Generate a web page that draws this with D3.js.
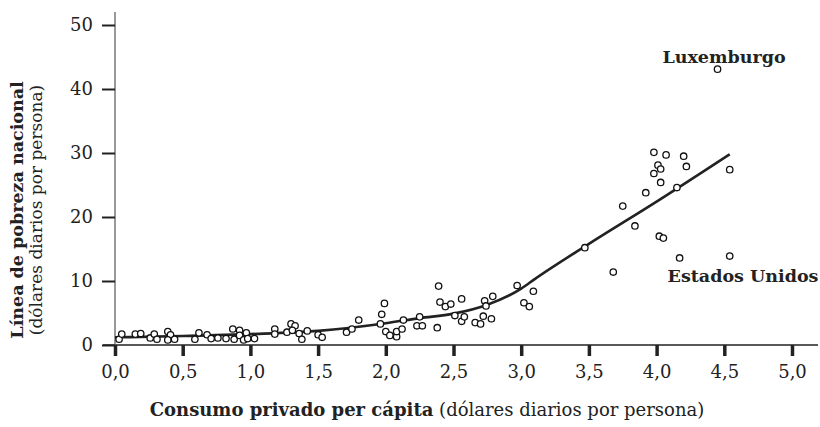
<!DOCTYPE html>
<html>
<head>
<meta charset="utf-8">
<script src="https://cdn.jsdelivr.net/npm/d3@7"></script>
<style>
  body { margin: 0; background: #fff; }
  svg { display: block; font-family: "DejaVu Serif", "Liberation Serif", serif; }
</style>
</head>
<body>
<svg id="chart" width="820" height="427"></svg>
<script>
// consumo privado per capita (x) vs linea de pobreza nacional (y)
const pointX = [0.03, 0.05, 0.15, 0.19, 0.26, 0.29, 0.31, 0.39, 0.41, 0.39, 0.44, 0.59, 0.62, 0.68, 0.71,
  0.76, 0.82, 0.87, 0.88, 0.92, 0.92, 0.95, 0.97, 0.98, 1.03, 1.18, 1.18, 1.27, 1.30, 1.33, 1.31, 1.36,
  1.38, 1.42, 1.50, 1.53, 1.71, 1.75, 1.80, 1.96, 1.97, 1.99, 2.00, 2.03, 2.08, 2.08, 2.12, 2.13, 2.23,
  2.27, 2.25, 2.38, 2.39, 2.40, 2.44, 2.48, 2.51, 2.56, 2.58, 2.56, 2.66, 2.70, 2.72, 2.73, 2.74, 2.78,
  2.79, 2.97, 3.02, 3.06, 3.09, 3.47, 3.68, 3.75, 3.84, 3.92, 3.98, 4.01, 4.03, 3.98, 4.03, 4.07, 4.02,
  4.05, 4.15, 4.17, 4.20, 4.22, 4.54, 4.54, 4.45];
const pointY = [0.9, 1.7, 1.7, 1.8, 1.1, 1.7, 0.9, 2.1, 1.6, 0.8, 0.9, 0.9, 1.9, 1.6, 1.0,
  1.1, 1.0, 2.5, 0.9, 2.3, 1.5, 0.8, 1.9, 1.0, 1.0, 2.5, 1.7, 2.0, 3.3, 3.0, 2.3, 1.8,
  0.9, 2.2, 1.6, 1.2, 2.0, 2.5, 3.9, 3.3, 4.8, 6.5, 2.1, 1.5, 1.3, 2.1, 2.5, 3.9, 3.0,
  3.0, 4.4, 2.7, 9.2, 6.7, 6.0, 6.4, 4.6, 3.7, 4.4, 7.2, 3.5, 3.3, 4.5, 6.9, 6.1, 4.1,
  7.6, 9.3, 6.6, 6.0, 8.4, 15.2, 11.4, 21.7, 18.6, 23.8, 30.1, 28.1, 27.5, 26.8, 25.4, 29.7, 17.0,
  16.7, 24.6, 13.6, 29.5, 27.9, 27.4, 13.9, 43.1];

// curva ajustada
const fitX = [0.0, 0.5, 1.0, 1.5, 2.0, 2.25, 2.5, 2.75, 3.0, 3.1, 3.5, 4.0, 4.54];
const fitY = [1.2, 1.4, 1.7, 2.2, 3.4, 4.2, 4.9, 6.3, 8.8, 10.3, 15.8, 22.4, 29.8];

const xTicks = [0, 0.5, 1, 1.5, 2, 2.5, 3, 3.5, 4, 4.5, 5];
const yTicks = [0, 10, 20, 30, 40, 50];

const notes = ["Luxemburgo", "Estados Unidos"];

const svg = d3.select("#chart");
const x = d3.scaleLinear().domain([0, 5]).range([115, 792]);
const y = d3.scaleLinear().domain([0, 50]).range([345, 25]);
const fmt = v => d3.format(".1f")(v).replace(".", ",");

// axis lines
svg.append("line")
  .attr("x1", 103).attr("x2", 818)
  .attr("y1", y(0)).attr("y2", y(0))
  .attr("stroke", "#222").attr("stroke-width", 1.6);
svg.append("line")
  .attr("x1", x(0)).attr("x2", x(0))
  .attr("y1", 12).attr("y2", y(0))
  .attr("stroke", "#555").attr("stroke-width", 1.2);

const xAxis = svg.append("g")
  .attr("transform", `translate(0,${y(0)})`)
  .call(d3.axisBottom(x).tickValues(xTicks).tickSize(11).tickPadding(9).tickFormat(fmt))
  .attr("font-family", null).attr("font-size", 18);
xAxis.select(".domain").remove();
xAxis.selectAll(".tick line").attr("stroke", "#222").attr("stroke-width", 3.5);
xAxis.selectAll(".tick text").attr("fill", "#222");

const yAxis = svg.append("g")
  .attr("transform", `translate(${x(0)},0)`)
  .call(d3.axisLeft(y).tickValues(yTicks).tickSize(13).tickPadding(9))
  .attr("font-family", null).attr("font-size", 18);
yAxis.select(".domain").remove();
yAxis.selectAll(".tick line").attr("stroke", "#222").attr("stroke-width", 2);
yAxis.selectAll(".tick text").attr("fill", "#222");

// fitted curve
const line = d3.line().x(d => x(d[0])).y(d => y(d[1])).curve(d3.curveMonotoneX);
svg.append("path")
  .datum(d3.zip(fitX, fitY))
  .attr("d", line)
  .attr("fill", "none")
  .attr("stroke", "#222")
  .attr("stroke-width", 2.6);

// points
svg.append("g")
  .selectAll("circle")
  .data(d3.zip(pointX, pointY))
  .join("circle")
  .attr("cx", d => x(d[0]))
  .attr("cy", d => y(d[1]))
  .attr("r", 3.2)
  .attr("fill", "#fff")
  .attr("stroke", "#111")
  .attr("stroke-width", 1.3);

// country labels
svg.append("text")
  .attr("x", 724).attr("y", 63)
  .attr("text-anchor", "middle")
  .attr("font-weight", "bold").attr("font-size", 17.5).attr("fill", "#222")
  .text(notes[0]);
svg.append("text")
  .attr("x", 743).attr("y", 282)
  .attr("text-anchor", "middle")
  .attr("font-weight", "bold").attr("font-size", 17.5).attr("fill", "#222")
  .text(notes[1]);

// axis titles
const yt = svg.append("text")
  .attr("transform", "translate(23,210) rotate(-90)")
  .attr("text-anchor", "middle").attr("fill", "#222").attr("font-size", 17.5);
yt.append("tspan").attr("x", 0).attr("font-weight", "bold").text("Línea de pobreza nacional");
yt.append("tspan").attr("x", 0).attr("dy", 19).attr("font-size", 17).text("(dólares diarios por persona)");

const xt = svg.append("text")
  .attr("x", 427).attr("y", 416)
  .attr("text-anchor", "middle").attr("fill", "#222").attr("font-size", 18);
xt.append("tspan").attr("font-weight", "bold").text("Consumo privado per cápita");
xt.append("tspan").text(" (dólares diarios por persona)");
</script>
</body>
</html>
